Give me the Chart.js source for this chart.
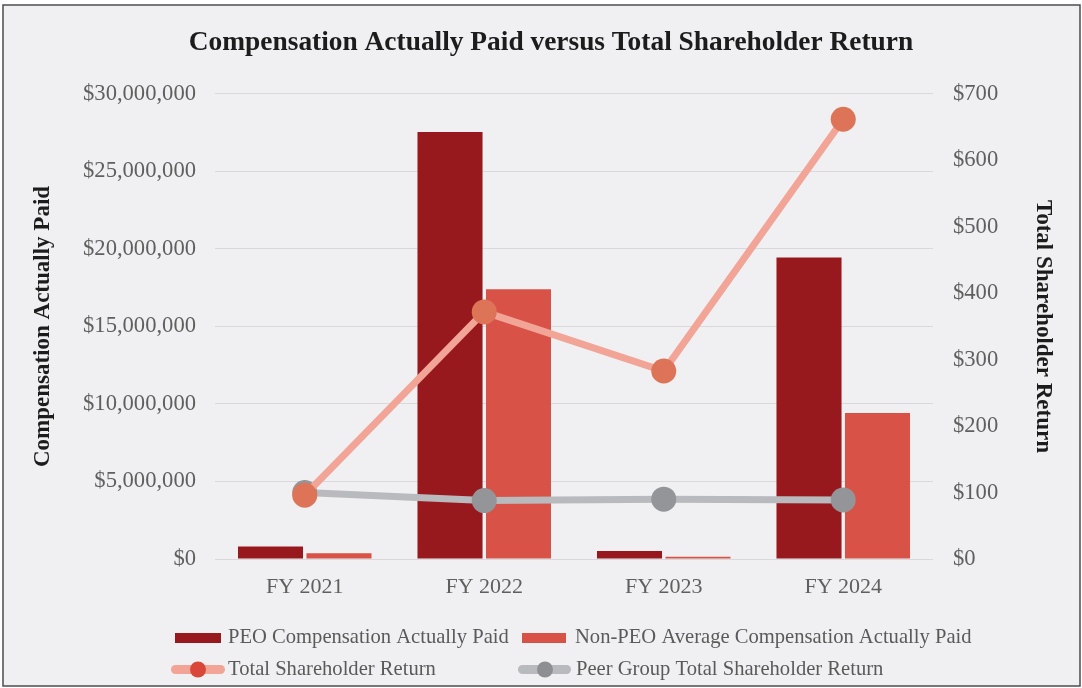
<!DOCTYPE html>
<html>
<head>
<meta charset="utf-8">
<script src="https://cdn.jsdelivr.net/npm/chart.js@4/dist/chart.umd.min.js"></script>
<style>
  html, body { margin: 0; padding: 0; background: #ffffff; }
  #wrap { width: 1082px; height: 688px; }
</style>
</head>
<body>
<div id="wrap"><canvas id="c" width="1082" height="688"></canvas></div>
<script>
const categories = ['FY 2021', 'FY 2022', 'FY 2023', 'FY 2024'];
const peoCap = [800000, 27550000, 520000, 19450000];
const nonPeoCap = [370000, 17400000, 150000, 9420000];
const tsr = [96, 372, 283, 662];
const peerTsr = [100, 88, 90, 89];

const seriesNames = [
  'PEO Compensation Actually Paid',
  'Non-PEO Average Compensation Actually Paid',
  'Total Shareholder Return',
  'Peer Group Total Shareholder Return'
];

const C = {
  peo: '#97191e',
  nonPeo: '#d85247',
  tsrLine: '#f2a497',
  tsrPoint: '#de7457',
  peerLine: '#b9babd',
  peerPoint: '#939598',
  tick: '#5f5f5f',
  title: '#1c1c1c'
};

const SERIF = '"Liberation Serif", "Times New Roman", serif';

const frame = {
  id: 'frame',
  beforeDraw(chart) {
    const ctx = chart.ctx;
    ctx.save();
    ctx.fillStyle = '#ffffff';
    ctx.fillRect(0, 0, chart.width, chart.height);
    ctx.fillStyle = '#f0f0f2';
    ctx.fillRect(3, 5, 1077, 681);
    ctx.strokeStyle = '#4d4d4d';
    ctx.lineWidth = 1.5;
    ctx.strokeRect(3, 5, 1077, 681);
    ctx.restore();
  }
};

const legendPlugin = {
  id: 'twoColLegend',
  afterDraw(chart) {
    const ctx = chart.ctx;
    ctx.save();
    ctx.font = '20.6px ' + SERIF;
    ctx.textBaseline = 'middle';
    ctx.textAlign = 'left';
    const r1 = 638, r2 = 670;
    ctx.fillStyle = C.peo;
    ctx.fillRect(175, r1 - 5, 46, 10);
    ctx.fillStyle = C.nonPeo;
    ctx.fillRect(522, r1 - 5, 44, 10);
    ctx.fillStyle = '#5a5a5a';
    ctx.fillText(seriesNames[0], 228, r1);
    ctx.fillText(seriesNames[1], 575, r1);
    function lineSym(x0, x1, cx, y, lc, pc) {
      ctx.strokeStyle = lc;
      ctx.lineWidth = 9;
      ctx.lineCap = 'round';
      ctx.beginPath();
      ctx.moveTo(x0 + 4.5, y);
      ctx.lineTo(x1 - 4.5, y);
      ctx.stroke();
      ctx.fillStyle = pc;
      ctx.beginPath();
      ctx.arc(cx, y, 8, 0, Math.PI * 2);
      ctx.fill();
    }
    lineSym(171, 225, 198, r2 - 0.5, C.tsrLine, '#d9473a');
    lineSym(518, 571, 545, r2 - 0.5, C.peerLine, '#8e8f92');
    ctx.fillStyle = '#5a5a5a';
    ctx.fillText(seriesNames[2], 228, r2);
    ctx.fillText(seriesNames[3], 576, r2);
    ctx.restore();
  }
};

new Chart(document.getElementById('c'), {
  data: {
    labels: categories,
    datasets: [
      {
        type: 'bar', label: seriesNames[0], data: peoCap, yAxisID: 'y',
        backgroundColor: C.peo, order: 3,
        barPercentage: 0.95, categoryPercentage: 0.763
      },
      {
        type: 'bar', label: seriesNames[1], data: nonPeoCap, yAxisID: 'y',
        backgroundColor: C.nonPeo, order: 3,
        barPercentage: 0.95, categoryPercentage: 0.763
      },
      {
        type: 'line', label: seriesNames[2], data: tsr, yAxisID: 'y1',
        borderColor: C.tsrLine, borderWidth: 7, backgroundColor: C.tsrPoint,
        pointBackgroundColor: C.tsrPoint, pointBorderColor: C.tsrPoint,
        pointRadius: 12.5, pointBorderWidth: 0, order: 0, tension: 0
      },
      {
        type: 'line', label: seriesNames[3], data: peerTsr, yAxisID: 'y1',
        borderColor: C.peerLine, borderWidth: 7, backgroundColor: C.peerPoint,
        pointBackgroundColor: C.peerPoint, pointBorderColor: C.peerPoint,
        pointRadius: 12.5, pointBorderWidth: 0, order: 1, tension: 0
      }
    ]
  },
  options: {
    responsive: false,
    animation: false,
    devicePixelRatio: 1,
    layout: { padding: { left: 20, right: 0, top: 0, bottom: 0 } },
    plugins: {
      legend: { display: false },
      tooltip: { enabled: false },
      title: {
        display: true,
        text: 'Compensation Actually Paid versus Total Shareholder Return',
        color: C.title,
        font: { family: SERIF, size: 27.4, weight: 'bold' },
        padding: { top: 26.5, bottom: 34.6 }
      }
    },
    scales: {
      x: {
        grid: { display: false, drawTicks: false },
        border: { display: false },
        ticks: { color: C.tick, font: { family: SERIF, size: 22 }, padding: 15 },
        afterFit(s) { s.height = 129; }
      },
      y: {
        position: 'left',
        min: 0, max: 30000000,
        grid: { color: '#d9d9dc', lineWidth: 1, drawTicks: false },
        border: { display: false },
        ticks: {
          stepSize: 5000000, padding: 19, color: C.tick,
          font: { family: SERIF, size: 22.6 },
          callback: v => '$' + Number(v).toLocaleString('en-US')
        },
        title: {
          display: true, text: 'Compensation Actually Paid', color: C.title,
          font: { family: SERIF, size: 23, weight: 'bold' },
          padding: { top: 9.2, bottom: 0 }
        },
        afterFit(s) { s.width = 195; }
      },
      y1: {
        position: 'right',
        min: 0, max: 700,
        grid: { display: false, drawTicks: false },
        border: { display: false },
        ticks: {
          stepSize: 100, padding: 20, color: C.tick,
          font: { family: SERIF, size: 22.6 },
          callback: v => '$' + v
        },
        title: {
          display: true, text: 'Total Shareholder Return', color: C.title,
          font: { family: SERIF, size: 23, weight: 'bold' },
          padding: { top: 25.2, bottom: 0 }
        },
        afterFit(s) { s.width = 149; }
      }
    }
  },
  plugins: [frame, legendPlugin]
});
</script>
</body>
</html>
